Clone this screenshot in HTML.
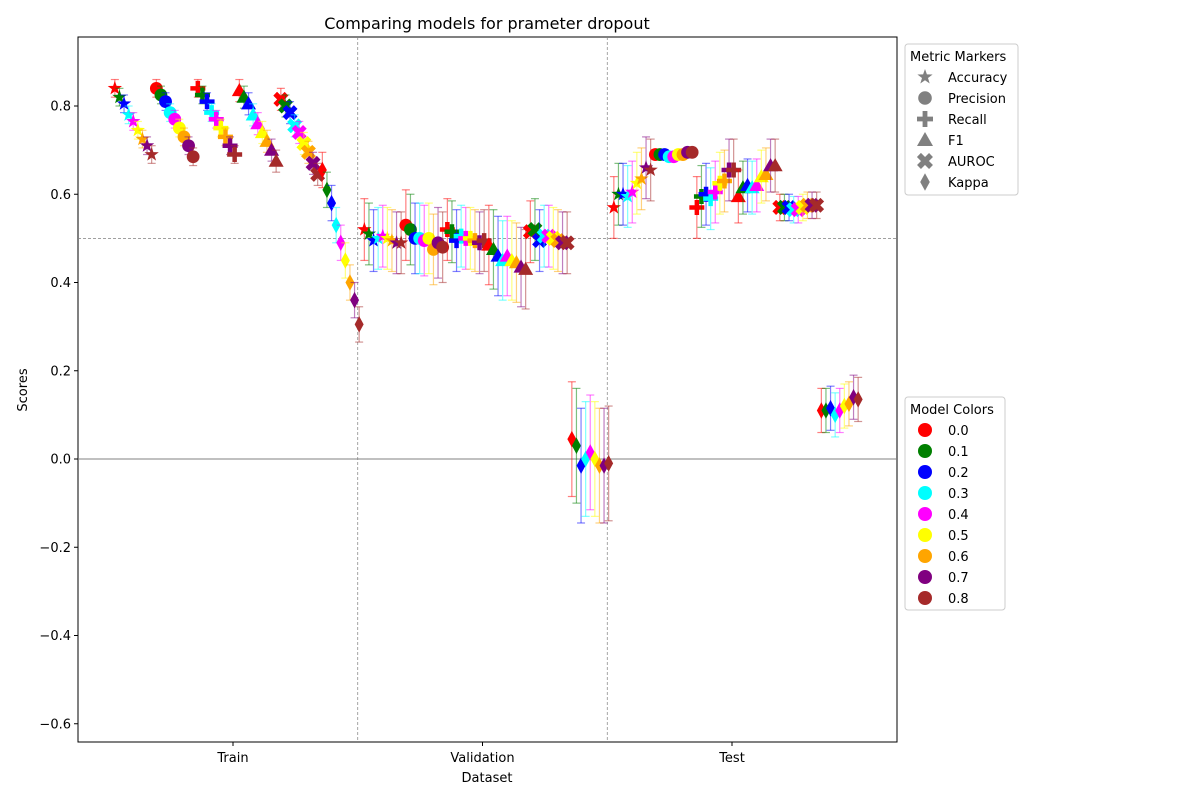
<!DOCTYPE html>
<html><head><meta charset="utf-8"><style>
body{margin:0;background:#fff}
svg{font-family:"DejaVu Sans","Liberation Sans",sans-serif}
</style></head><body>
<svg id="chart" width="1200" height="800" viewBox="0 0 1200 800" xmlns="http://www.w3.org/2000/svg"></svg>
<script>
const datasets = ["Train","Validation","Test"];
const metrics = ["Accuracy","Precision","Recall","F1","AUROC","Kappa"];
const models = ["0.0","0.1","0.2","0.3","0.4","0.5","0.6","0.7","0.8"];
const colors = ["red","green","blue","cyan","magenta","yellow","orange","purple","brown"];
const yTicks = [-0.6,-0.4,-0.2,0.0,0.2,0.4,0.6,0.8];
const trainScores = [
 [0.84,0.82,0.805,0.78,0.765,0.745,0.725,0.71,0.69],
 [0.84,0.825,0.81,0.785,0.77,0.75,0.73,0.71,0.685],
 [0.84,0.825,0.81,0.785,0.77,0.75,0.73,0.71,0.69],
 [0.835,0.82,0.805,0.78,0.76,0.74,0.72,0.70,0.675],
 [0.815,0.80,0.785,0.755,0.74,0.715,0.695,0.67,0.645],
 [0.655,0.61,0.58,0.53,0.49,0.45,0.40,0.36,0.305]];
const validationScores = [
 [0.52,0.51,0.495,0.50,0.505,0.50,0.495,0.49,0.49],
 [0.53,0.52,0.50,0.50,0.495,0.50,0.475,0.49,0.48],
 [0.52,0.515,0.495,0.505,0.50,0.50,0.495,0.49,0.495],
 [0.485,0.475,0.46,0.45,0.46,0.45,0.445,0.435,0.43],
 [0.515,0.52,0.495,0.505,0.505,0.50,0.495,0.49,0.49],
 [0.045,0.03,-0.015,0.0,0.015,0.0,-0.015,-0.015,-0.01]];
const testScores = [
 [0.57,0.60,0.60,0.595,0.605,0.625,0.635,0.66,0.655],
 [0.69,0.69,0.69,0.685,0.685,0.69,0.69,0.695,0.695],
 [0.57,0.595,0.60,0.59,0.605,0.625,0.63,0.655,0.655],
 [0.595,0.615,0.62,0.615,0.62,0.64,0.645,0.665,0.665],
 [0.57,0.57,0.57,0.565,0.565,0.57,0.575,0.575,0.575],
 [0.11,0.11,0.115,0.10,0.11,0.12,0.125,0.14,0.135]];
const trainErr = [0.02,0.02,0.02,0.025,0.025,0.04];
const validationErr = [0.07,0.08,0.07,0.09,0.07,0.13];
const testErr = [0.07,0.01,0.07,0.06,0.03,0.05];

const allScores=[trainScores,validationScores,testScores];
const allErr=[trainErr,validationErr,testErr];
const NS="http://www.w3.org/2000/svg";
const svg=document.getElementById('chart');
const L=78,R=897,T=37,B=742;
function y(v){return 459-v*441.25;}
function xc(d){return 233+d*249.5;}
function xp(d,m,k){return xc(d)+4+(m-2.5)*41.5+(k-4)*4.6;}
function el(tag,attrs,parent){const e=document.createElementNS(NS,tag);for(const a in attrs)e.setAttribute(a,attrs[a]);(parent||svg).appendChild(e);return e;}
function txt(s,attrs,parent){const e=el('text',attrs,parent);e.textContent=s;return e;}

function marker(m,cx,cy,col,s,parent){
  let e;
  if(m===0){let p=[];for(let i=0;i<10;i++){const r=i%2?s*0.4:s;const a=-Math.PI/2+i*Math.PI/5;p.push((cx+r*Math.cos(a)).toFixed(1)+','+(cy+r*Math.sin(a)).toFixed(1));}e=el('polygon',{points:p.join(' '),fill:col},parent);}
  else if(m===1){e=el('circle',{cx:cx,cy:cy,r:s*0.8,fill:col},parent);}
  else if(m===2){const w=s*0.3;e=el('path',{d:`M${cx-w},${cy-s}h${2*w}v${s-w}h${s-w}v${2*w}h${-(s-w)}v${s-w}h${-2*w}v${-(s-w)}h${-(s-w)}v${-2*w}h${s-w}z`,fill:col},parent);}
  else if(m===3){e=el('polygon',{points:`${cx},${cy-s} ${cx+s},${cy+s*0.75} ${cx-s},${cy+s*0.75}`,fill:col},parent);}
  else if(m===4){const w=s*0.3,q=s*0.75;e=el('path',{d:`M${cx},${cy} l${-q},${-q}`,stroke:col,'stroke-width':w*2.3,fill:'none'},parent);el('path',{d:`M${cx-q},${cy-q}L${cx+q},${cy+q}M${cx+q},${cy-q}L${cx-q},${cy+q}`,stroke:col,'stroke-width':w*2.3},parent);}
  else {e=el('polygon',{points:`${cx},${cy-s*1.1} ${cx+s*0.6},${cy} ${cx},${cy+s*1.1} ${cx-s*0.6},${cy}`,fill:col},parent);}
  return e;
}

// frame
el('rect',{x:L,y:T,width:R-L,height:B-T,fill:'#fff',stroke:'#000','stroke-width':1,});
el('line',{x1:L,x2:R,y1:y(0),y2:y(0),stroke:'#808080','stroke-width':1,});
el('line',{x1:L,x2:R,y1:y(0.5),y2:y(0.5),stroke:'#808080','stroke-width':0.7,'stroke-dasharray':'3,2',});
[0.5,1.5].forEach(d=>{el('line',{x1:xc(d),x2:xc(d),y1:T,y2:B,stroke:'#808080','stroke-width':0.7,'stroke-dasharray':'3,2',});});

// y ticks
yTicks.forEach(v=>{
  const g=el('g',{});
  
  
  el('line',{x1:L-4,x2:L,y1:y(v),y2:y(v),stroke:'#000'},g);
  txt((v<0?'\u2212':'')+Math.abs(v).toFixed(1),{x:L-7,y:y(v)+4.5,'text-anchor':'end','font-size':13},g);
});
datasets.forEach((d,i)=>{
  const g=el('g',{});
  
  
  el('line',{x1:xc(i),x2:xc(i),y1:B,y2:B+4,stroke:'#000'},g);
  txt(d,{x:xc(i),y:B+20,'text-anchor':'middle','font-size':13},g);
});
txt('Comparing models for prameter dropout',{x:487,y:29,'text-anchor':'middle','font-size':16,});
txt('Dataset',{x:487,y:782,'text-anchor':'middle','font-size':13,});
txt('Scores',{x:27,y:390,'text-anchor':'middle','font-size':13,transform:'rotate(-90 27 390)',});

// data
for(let d=0;d<3;d++)for(let m=0;m<6;m++)for(let k=0;k<9;k++){
  const v=allScores[d][m][k],e=allErr[d][m],cx=xp(d,m,k),col=colors[k];
  const g=el('g',{});
  
  
  el('line',{x1:cx,x2:cx,y1:y(v+e),y2:y(v-e),stroke:col,'stroke-opacity':0.5,'stroke-width':1.2},g);
  el('line',{x1:cx-4,x2:cx+4,y1:y(v+e),y2:y(v+e),stroke:col,'stroke-opacity':0.5,'stroke-width':1.2},g);
  el('line',{x1:cx-4,x2:cx+4,y1:y(v-e),y2:y(v-e),stroke:col,'stroke-opacity':0.5,'stroke-width':1.2},g);
  marker(m,cx,y(v),col,m===1?8:7.5,g);
}

// legends
const lg1=el('g',{});


el('rect',{x:905,y:44,width:113,height:151,rx:3,fill:'#fff',stroke:'#ccc'},lg1);
txt('Metric Markers',{x:910,y:61,'font-size':13},lg1);
metrics.forEach((m,i)=>{
  const g=el('g',{},lg1);
  
  
  const cy=77+i*21;
  marker(i,925,cy,'gray',i===1?8.5:8,g);
  txt(m,{x:948,y:cy+5,'font-size':13},g);
});
const lg2=el('g',{});


el('rect',{x:905,y:397,width:100,height:213,rx:3,fill:'#fff',stroke:'#ccc'},lg2);
txt('Model Colors',{x:910,y:414,'font-size':13},lg2);
models.forEach((m,i)=>{
  const g=el('g',{},lg2);
  
  
  const cy=430+i*21;
  el('circle',{cx:925,cy:cy,r:7,fill:colors[i]},g);
  txt(m,{x:948,y:cy+5,'font-size':13},g);
});
</script>
</body></html>
